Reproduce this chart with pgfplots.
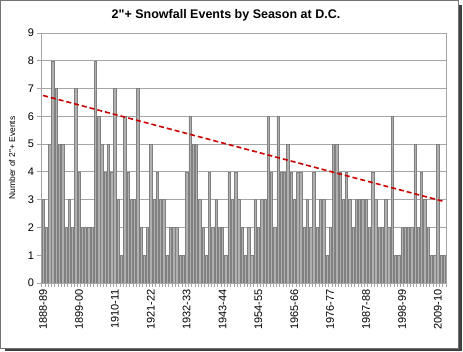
\documentclass[border=0pt]{standalone}
\usepackage{pgfplots}
\pgfplotsset{compat=1.18}
\usepackage{fontspec}
\setmainfont{Liberation Sans}[Ligatures=TeXOff]
\definecolor{barfill}{RGB}{176,176,176}
\definecolor{baredge}{RGB}{128,128,128}
\definecolor{gridc}{RGB}{165,165,165}
\definecolor{trend}{RGB}{204,0,0}
\begin{document}
\begin{tikzpicture}
\fill[white] (0pt,0pt) rectangle (463pt,352pt);
\fill[black!75] (5pt,0.5pt) rectangle (461.5pt,3.5pt);
\fill[black!75] (458.5pt,0.5pt) rectangle (461.5pt,347pt);
\draw[black!55,line width=0.6pt] (0.5pt,3.5pt) rectangle (458.5pt,351.5pt);
\begin{axis}[
  at={(41.5pt,69pt)}, anchor=south west,
  width=404.5pt, height=250pt, scale only axis,
  xmin=-0.5, xmax=123.5, ymin=0, ymax=9,
  ytick={0,1,...,9},
  xtick={0,11,...,121},
  xticklabels={1888-89,1899-00,1910-11,1921-22,1932-33,1943-44,1954-55,1965-66,1976-77,1987-88,1998-99,2009-10},
  minor xtick={-0.5,0.5,...,123.5},
  xticklabel style={rotate=90, anchor=east, font=\fontsize{11}{12}\selectfont, inner sep=2pt},
  yticklabel style={font=\fontsize{11}{12}\selectfont},
  /pgf/number format/assume math mode=true,
  axis line style={gridc, line width=0.8pt},
  ymajorgrids, grid style={gridc, line width=0.8pt},
  tick align=outside, xtick pos=bottom, ytick pos=left,
  major tick length=4pt, minor tick length=4pt,
  major x tick style={draw=none},
  minor x tick style={gridc, line width=0.5pt},
  y tick style={gridc, line width=0.8pt},
]
\addplot[ybar, bar width=0.72, fill=barfill, draw=baredge, line width=0.5pt] table[x=i, y=n] {
i n
0 3
1 2
2 5
3 8
4 7
5 5
6 5
7 2
8 3
9 2
10 7
11 4
12 2
13 2
14 2
15 2
16 8
17 6
18 5
19 4
20 5
21 4
22 7
23 3
24 1
25 6
26 4
27 3
28 3
29 7
30 2
31 1
32 2
33 5
34 3
35 4
36 3
37 3
38 1
39 2
40 2
41 2
42 1
43 1
44 4
45 6
46 5
47 5
48 3
49 2
50 1
51 4
52 2
53 3
54 2
55 2
56 1
57 4
58 3
59 4
60 3
61 2
62 1
63 2
64 1
65 3
66 2
67 3
68 3
69 6
70 4
71 2
72 6
73 4
74 4
75 5
76 4
77 3
78 4
79 4
80 2
81 3
82 2
83 4
84 2
85 3
86 3
87 1
88 2
89 5
90 5
91 4
92 3
93 4
94 3
95 2
96 3
97 3
98 3
99 3
100 2
101 4
102 3
103 2
104 2
105 3
106 2
107 6
108 1
109 1
110 2
111 2
112 2
113 2
114 5
115 2
116 4
117 3
118 2
119 1
120 1
121 5
122 1
123 1
};
\addplot[trend, line width=1.6pt, dash pattern=on 5pt off 3pt] coordinates {(0,6.75) (123,2.93)};
\end{axis}
\node[font=\bfseries\fontsize{12.5}{14}\selectfont] at (226pt,337pt) {2"+ Snowfall Events by Season at D.C.};
\node[rotate=90, font=\fontsize{8.5}{10}\selectfont] at (12pt,194pt) {Number of 2"+ Events};
\end{tikzpicture}
\end{document}
